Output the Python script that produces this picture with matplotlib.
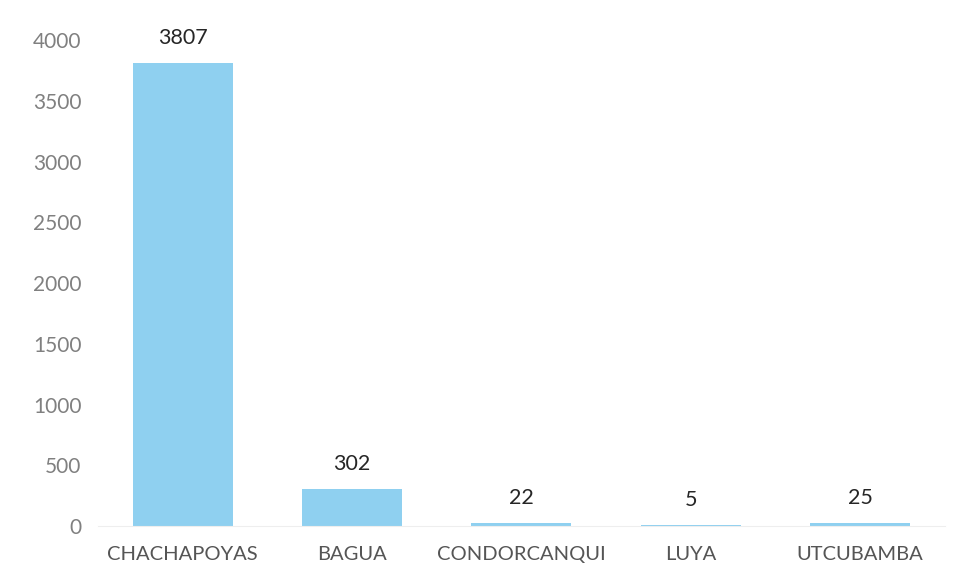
import matplotlib.pyplot as plt
import numpy as np

# datos por provincia
PROVINCIAS = ["CHACHAPOYAS", "BAGUA", "CONDORCANQUI", "LUYA", "UTCUBAMBA"]
VALORES = [3807, 302, 22, 5, 25]
Y_TICKS = [0, 500, 1000, 1500, 2000, 2500, 3000, 3500, 4000]

plt.rcParams['font.family'] = ['Lato', 'DejaVu Sans']

fig = plt.figure(figsize=(9.7, 5.8), dpi=100)
ax = fig.add_axes([0.101, 0.093, 0.873, 0.838])

x = np.arange(len(PROVINCIAS))
bars = ax.bar(x, VALORES, width=0.59, color='#8fd0f0')

# etiquetas de valores sobre las barras
for bar, v in zip(bars, VALORES):
    ax.annotate(f'{v}', xy=(bar.get_x() + bar.get_width() / 2, bar.get_height()),
                xytext=(0, 11), textcoords="offset points",
                ha='center', va='bottom', fontsize=15.5, color='#262626')

ax.set_xlim(-0.5, len(PROVINCIAS) - 0.5)
ax.set_ylim(0, 4000)
ax.set_yticks(Y_TICKS)
ax.set_xticks(x)
ax.set_xticklabels(PROVINCIAS, fontsize=14.5, color='#555555')
ax.tick_params(axis='y', labelsize=15, labelcolor='#808080', length=0, pad=12)
ax.tick_params(axis='x', length=0, pad=14)

for s in ['top', 'right', 'left']:
    ax.spines[s].set_visible(False)
ax.spines['bottom'].set_color('#eeeeee')

plt.savefig('out.png', dpi=100)
